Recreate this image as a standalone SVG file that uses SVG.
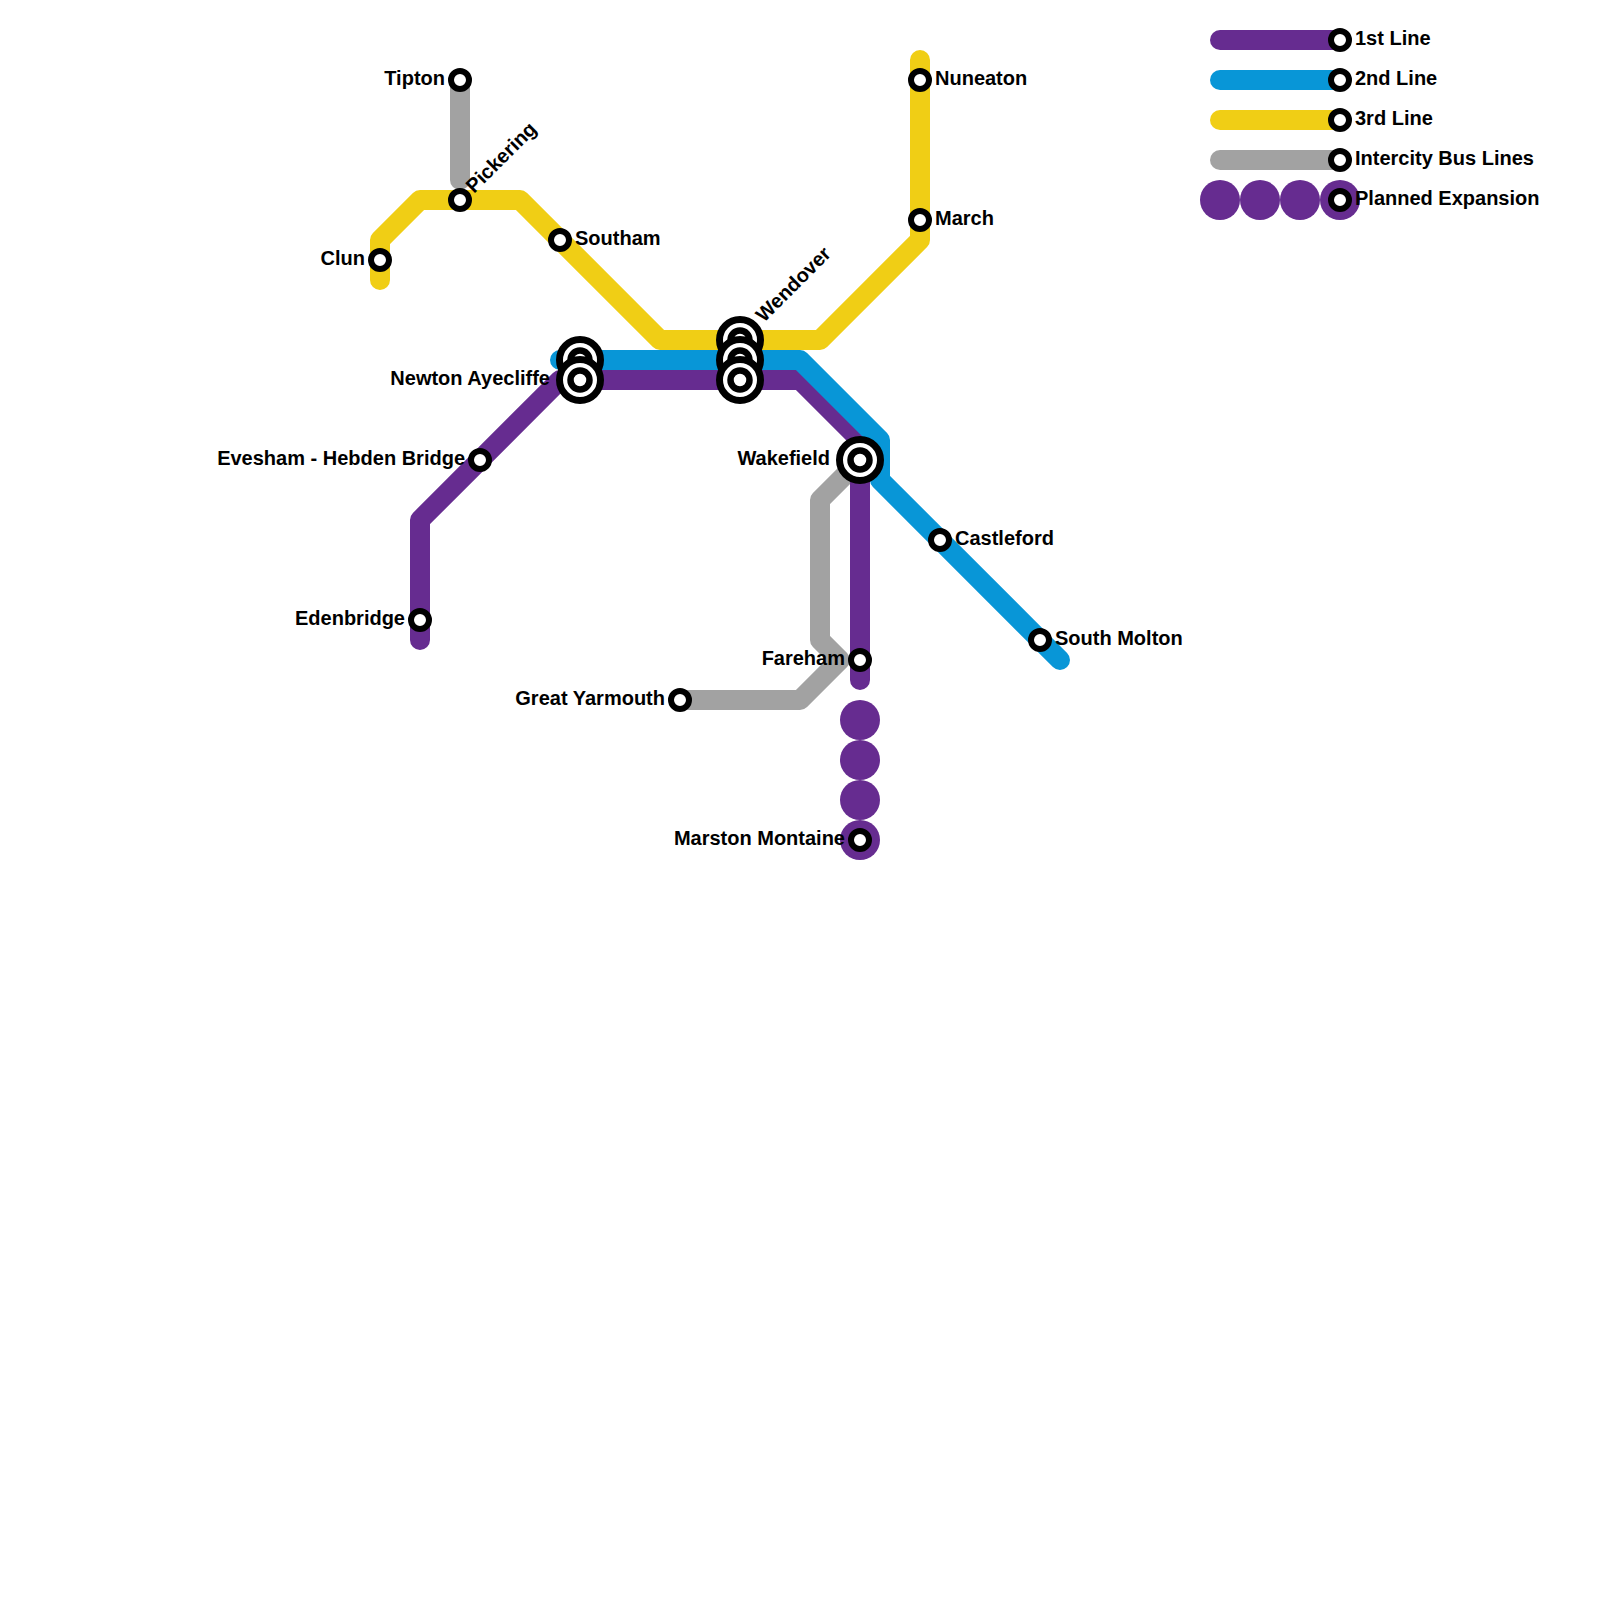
<svg xmlns="http://www.w3.org/2000/svg" width="1600" height="1600" viewBox="0 0 1600 1600">
<style>
.l{fill:none;stroke-width:20;stroke-linecap:round;stroke-linejoin:round}
.p{stroke:#662c90}.b{stroke:#0896d7}.y{stroke:#f0ce15}.g{stroke:#a2a2a2}
.d{fill:#662c90}
.s{fill:#fff;stroke:#000;stroke-width:6}
.o{fill:#fff;stroke:#000;stroke-width:7}
.i{fill:#fff;stroke:#000;stroke-width:6.5}
text{font-family:"Liberation Sans",Arial,sans-serif;font-weight:700;font-size:20px;fill:#000}
.e{text-anchor:end}
</style>
<defs>
<g id="st"><circle class="s" r="9"/></g>
<g id="ix"><circle class="o" r="20.5"/><circle class="i" r="9.5"/></g>
</defs>
<rect width="1600" height="1600" fill="#fff"/>
<g id="connectors">
<path class="l g" d="M460 80V180"/>
<path class="l g" d="M680 700H800L840 660L820 640V500L860 460"/>
<path class="l y" d="M380 280V240L420 200H520L660 340H820L920 240V60"/>
<path class="l p" d="M420 640V520L560 380H800L860 440V680"/>
<path class="l b" d="M560 360H800L880 440V480L1060 660"/>
<path class="l p" d="M1220 40H1340"/>
<path class="l b" d="M1220 80H1340"/>
<path class="l y" d="M1220 120H1340"/>
<path class="l g" d="M1220 160H1340"/>
</g>
<g id="expansion">
<circle class="d" cx="860" cy="720" r="20"/><circle class="d" cx="860" cy="760" r="20"/><circle class="d" cx="860" cy="800" r="20"/><circle class="d" cx="860" cy="840" r="20"/>
<circle class="d" cx="1220" cy="200" r="20"/><circle class="d" cx="1260" cy="200" r="20"/><circle class="d" cx="1300" cy="200" r="20"/><circle class="d" cx="1340" cy="200" r="20"/>
</g>
<g id="tipton"><use href="#st" x="460" y="80"/><text class="e" x="445" y="85">Tipton</text></g>
<g id="pickering"><use href="#st" x="460" y="200"/><text transform="translate(474 194) rotate(-45)">Pickering</text></g>
<g id="clun"><use href="#st" x="380" y="260"/><text class="e" x="365" y="265">Clun</text></g>
<g id="southam"><use href="#st" x="560" y="240"/><text x="575" y="245">Southam</text></g>
<g id="nuneaton"><use href="#st" x="920" y="80"/><text x="935" y="85">Nuneaton</text></g>
<g id="march"><use href="#st" x="920" y="220"/><text x="935" y="225">March</text></g>
<g id="newton-ayecliffe"><use href="#ix" x="580" y="360"/><use href="#ix" x="580" y="380"/><text class="e" x="550" y="385">Newton Ayecliffe</text></g>
<g id="wendover"><use href="#ix" x="740" y="340"/><use href="#ix" x="740" y="360"/><use href="#ix" x="740" y="380"/><text transform="translate(764 323) rotate(-45)">Wendover</text></g>
<g id="evesham"><use href="#st" x="480" y="460"/><text class="e" x="465" y="465">Evesham - Hebden Bridge</text></g>
<g id="edenbridge"><use href="#st" x="420" y="620"/><text class="e" x="405" y="625">Edenbridge</text></g>
<g id="wakefield"><use href="#ix" x="860" y="460"/><text class="e" x="830" y="465">Wakefield</text></g>
<g id="castleford"><use href="#st" x="940" y="540"/><text x="955" y="545">Castleford</text></g>
<g id="south-molton"><use href="#st" x="1040" y="640"/><text x="1055" y="645">South Molton</text></g>
<g id="fareham"><use href="#st" x="860" y="660"/><text class="e" x="845" y="665">Fareham</text></g>
<g id="great-yarmouth"><use href="#st" x="680" y="700"/><text class="e" x="665" y="705">Great Yarmouth</text></g>
<g id="marston-montaine"><use href="#st" x="860" y="840"/><text class="e" x="845" y="845">Marston Montaine</text></g>
<g id="legend-1"><use href="#st" x="1340" y="40"/><text x="1355" y="45">1st Line</text></g>
<g id="legend-2"><use href="#st" x="1340" y="80"/><text x="1355" y="85">2nd Line</text></g>
<g id="legend-3"><use href="#st" x="1340" y="120"/><text x="1355" y="125">3rd Line</text></g>
<g id="legend-4"><use href="#st" x="1340" y="160"/><text x="1355" y="165">Intercity Bus Lines</text></g>
<g id="legend-5"><use href="#st" x="1340" y="200"/><text x="1355" y="205">Planned Expansion</text></g>
</svg>
